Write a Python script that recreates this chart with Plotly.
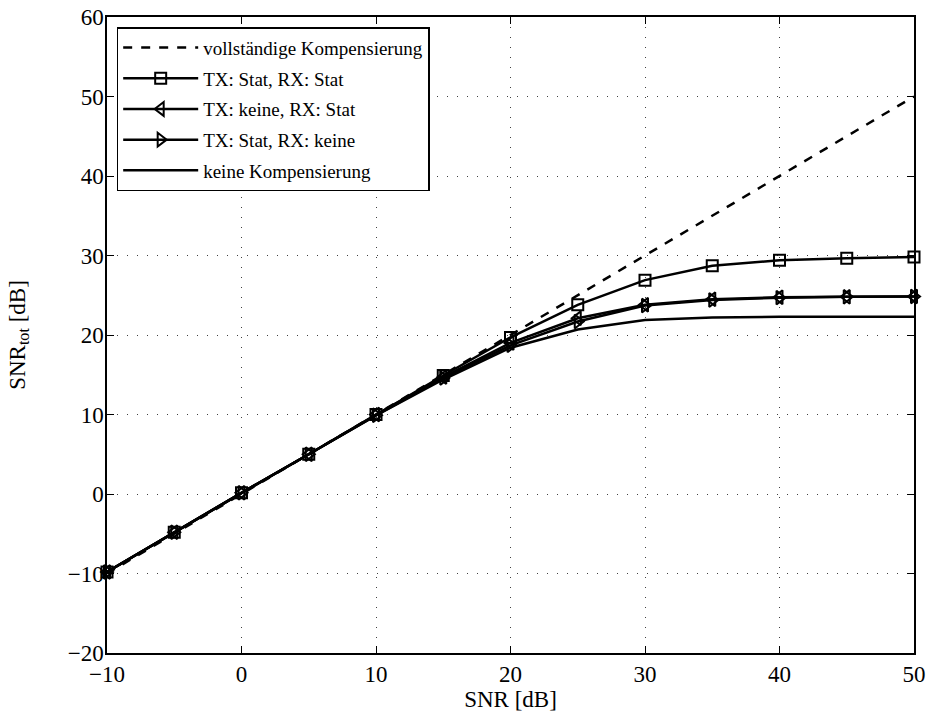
import plotly.graph_objects as go

snr = [-10, -5, 0, 5, 10, 15, 20, 25, 30, 35, 40, 45, 50]
full_comp = [-10, -5, 0, 5, 10, 15, 20, 25, 30, 35, 40, 45, 50]
tx_stat_rx_stat = [-9.8, -4.8, 0.15, 5.0, 10.0, 14.9, 19.7, 23.8, 26.9, 28.7, 29.4, 29.65, 29.8]
tx_none_rx_stat = [-9.8, -4.8, 0.15, 5.0, 10.0, 14.7, 19.0, 22.1, 23.8, 24.5, 24.75, 24.8, 24.85]
tx_stat_rx_none = [-9.8, -4.8, 0.15, 5.0, 9.9, 14.6, 18.7, 21.7, 23.7, 24.4, 24.7, 24.8, 24.85]
no_comp = [-9.8, -4.8, 0.1, 5.0, 9.9, 14.4, 18.4, 20.7, 21.9, 22.2, 22.3, 22.3, 22.3]

x_ticks = [-10, 0, 10, 20, 30, 40, 50]
y_ticks = [-20, -10, 0, 10, 20, 30, 40, 50, 60]

font = "Liberation Serif"
fig = go.Figure()
fig.add_trace(go.Scatter(x=snr, y=full_comp, mode="lines", name="vollständige Kompensierung",
                         legendgroup="a", cliponaxis=False,
                         line=dict(color="black", width=2.5, dash="dash")))
fig.add_trace(go.Scatter(x=snr, y=tx_stat_rx_stat, mode="lines+markers", name="TX: Stat, RX: Stat",
                         legendgroup="b", cliponaxis=False,
                         line=dict(color="black", width=2.5),
                         marker=dict(symbol="square-open", size=11, color="black", line=dict(width=2))))
fig.add_trace(go.Scatter(x=snr, y=tx_none_rx_stat, mode="lines+markers", name="TX: keine, RX: Stat",
                         legendgroup="c", cliponaxis=False,
                         line=dict(color="black", width=2.5),
                         marker=dict(symbol="triangle-left-open", size=12, color="black", line=dict(width=2))))
fig.add_trace(go.Scatter(x=snr, y=tx_stat_rx_none, mode="lines+markers", name="TX: Stat, RX: keine",
                         legendgroup="d", cliponaxis=False,
                         line=dict(color="black", width=2.5),
                         marker=dict(symbol="triangle-right-open", size=12, color="black", line=dict(width=2))))
fig.add_trace(go.Scatter(x=snr, y=no_comp, mode="lines", name="keine Kompensierung",
                         legendgroup="e", cliponaxis=False,
                         line=dict(color="black", width=2.5)))

axis_common = dict(showline=True, linecolor="black", linewidth=1.5, mirror="ticks",
                   ticks="inside", ticklen=7, tickcolor="black", tickwidth=1,
                   showgrid=True, gridcolor="rgba(0,0,0,0.75)", griddash="1px,9px", gridwidth=1.2,
                   zeroline=False, automargin=False,
                   tickfont=dict(family=font, size=23, color="black"))

fig.update_layout(
    width=929, height=715,
    margin=dict(l=107, r=15, t=17, b=62),
    paper_bgcolor="white", plot_bgcolor="white",
    font=dict(family=font, size=21, color="black"),
    showlegend=True,
    legend=dict(x=0.012, y=0.984, xanchor="left", yanchor="top",
                bgcolor="white", bordercolor="black", borderwidth=1.5,
                font=dict(family=font, size=19, color="black"),
                tracegroupgap=3, itemwidth=75),
    xaxis=dict(range=[-10, 50], tickvals=x_ticks,
               ticktext=[("\u2212" + str(-v)) if v < 0 else str(v) for v in x_ticks],
               title=dict(text="SNR [dB]", font=dict(family=font, size=23), standoff=0),
               **axis_common),
    yaxis=dict(range=[-20, 60], tickvals=y_ticks,
               ticktext=[("\u2212" + str(-v)) if v < 0 else str(v) for v in y_ticks],
               ticklabelstandoff=-3,
               title=dict(text="SNR<sub>tot</sub> [dB]", font=dict(family=font, size=23), standoff=36),
               **axis_common),
)

fig.write_html("out.html", config={"displayModeBar": False},
               post_script="document.body.style.margin='0';")
